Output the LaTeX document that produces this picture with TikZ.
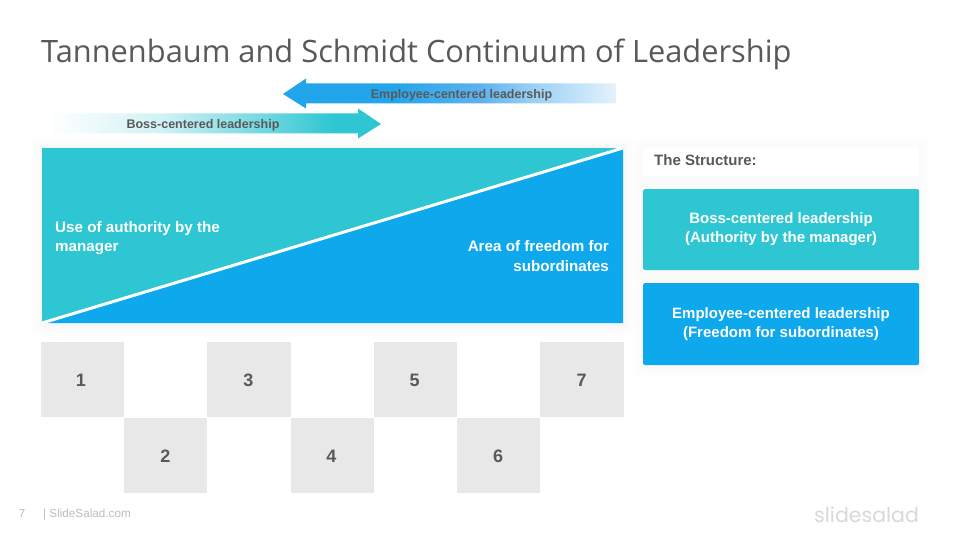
\documentclass[tikz,border=0pt]{standalone}
\usepackage{fontspec}
\setmainfont{Liberation Sans}
\newfontfamily\titlefont{Open Sans}
\newfontfamily\logofont{Poppins}
\usetikzlibrary{calc}
\definecolor{tealc}{HTML}{2DC6D2}
\definecolor{bluec}{HTML}{0EA8EC}
\definecolor{arrowb}{HTML}{22A5EB}
\definecolor{arrowm}{HTML}{5DB2EE}
\definecolor{inkc}{HTML}{595959}
\definecolor{greyc}{HTML}{E8E8E8}
\definecolor{footc}{HTML}{BDBDBD}
\definecolor{logoc}{HTML}{D9D9D9}
\definecolor{framec}{HTML}{F4F8F9}
\pgfdeclarehorizontalshading{bluefade}{100bp}{color(0bp)=(arrowb); color(29bp)=(arrowb); color(42bp)=(arrowm); color(50bp)=(arrowm!62!white); color(62bp)=(arrowm!18!white); color(75bp)=(white)}
\pgfdeclarehorizontalshading{tealfade}{100bp}{color(0bp)=(white); color(25bp)=(white); color(42bp)=(tealc!22!white); color(58bp)=(tealc!70!white); color(68bp)=(tealc); color(100bp)=(tealc)}
\tikzset{
  x=1pt,y=-1pt,
  cell/.style={fill=greyc,draw=none,minimum width=83.2pt,minimum height=75.5pt,inner sep=0pt},
  numlbl/.style={text=inkc,inner sep=0pt,font=\fontsize{18}{20}\selectfont\bfseries},
  lbl/.style={inner sep=0pt,text=inkc,font=\fontsize{12.5}{15}\selectfont\bfseries},
  wtext/.style={inner sep=0pt,text=white,align=center,font=\fontsize{15}{19}\selectfont\bfseries},
  panel/.style={rounded corners=1.5pt,inner sep=0pt,minimum width=276pt,anchor=north west},
  halo/.style={fill=black,fill opacity=0.005,draw=none,rounded corners=5pt},
}
\newcommand{\softbox}[4]{%
  \foreach \g in {2,4,...,10}{\fill[halo] ($(#1,#2)+(-\g,-\g+1)$) rectangle ($(#3,#4)+(\g,\g+1)$);}%
}
\begin{document}
\begin{tikzpicture}
\useasboundingbox (0,0) rectangle (960,540);
\fill[white] (0,0) rectangle (960,540);
\node[anchor=west,inner sep=0pt,text=inkc,font=\fontsize{30.8}{36}\selectfont\titlefont] (title) at (41,54) {Tannenbaum and Schmidt Continuum of Leadership};

% arrows
\path[shading=bluefade] (283,94) -- (306,78.5) -- (306,83.5) -- (616,83.5) -- (616,103.5) -- (306,103.5) -- (306,108.5) -- cycle;
\path[shading=tealfade] (381,124) -- (358,108.5) -- (358,113.5) -- (48,113.5) -- (48,133.5) -- (358,133.5) -- (358,138.5) -- cycle;
\node[lbl] (emp) at (461.5,95) {Employee-centered leadership};
\node[lbl] (boss) at (203,125) {Boss-centered leadership};

% main chart
\softbox{40}{146}{625}{325}
\fill[framec] (39.5,145.5) rectangle (625.5,325.5);
\fill[tealc] (42,148) rectangle (623,323);
\fill[bluec] (42,323) -- (623,148) -- (623,323) -- cycle;
\draw[white,line width=3pt] (42,323) -- (623,148);
\node[wtext,anchor=west,align=left,font=\fontsize{15.2}{19.5}\selectfont\bfseries] (auth) at (55,238) {Use of authority by the\\manager};
\node[wtext,anchor=east,align=right,font=\fontsize{15.2}{19.5}\selectfont\bfseries] (free) at (609,256) {Area of freedom for\\subordinates};

% cells
\node[cell] (c1) at (82.6,379.7) {};
\node[cell] (c2) at (165.8,455.3) {};
\node[cell] (c3) at (249,379.7) {};
\node[cell] (c4) at (332.3,455.3) {};
\node[cell] (c5) at (415.5,379.7) {};
\node[cell] (c6) at (498.6,455.3) {};
\node[cell] (c7) at (582,379.7) {};
\node[numlbl] (n1) at (81,380) {1};
\node[numlbl] (n2) at (165.5,456) {2};
\node[numlbl] (n3) at (248.5,380) {3};
\node[numlbl] (n4) at (331.5,456) {4};
\node[numlbl] (n5) at (414.5,380) {5};
\node[numlbl] (n6) at (498,456) {6};
\node[numlbl] (n7) at (581.5,380) {7};

% right panels
\softbox{643}{147}{919}{176}
\softbox{643}{189}{919}{270}
\softbox{643}{283}{919}{365}
\node[panel,fill=white,minimum height=29pt] (p0) at (643,147) {};
\node[panel,fill=tealc,minimum height=81pt] (p1) at (643,189) {};
\node[panel,fill=bluec,minimum height=82pt] (p2) at (643,283) {};
\node[anchor=west,inner sep=0pt,text=inkc,font=\fontsize{15}{18}\selectfont\bfseries] (t0) at (654,160.5) {The Structure:};
\node[wtext] (t1) at (781,229.5) {Boss-centered leadership\\(Authority by the manager)};
\node[wtext] (t2) at (781,324.5) {Employee-centered leadership\\(Freedom for subordinates)};

% footer
\node[anchor=center,inner sep=0pt,text=footc,font=\fontsize{11.5}{14}\selectfont] (pg) at (22,514) {7};
\node[anchor=west,inner sep=0pt,text=footc,font=\fontsize{11.7}{14}\selectfont] (site) at (43,514) {| SlideSalad.com};
\node[anchor=west,inner sep=0pt,text=logoc,font=\fontsize{20.5}{26}\selectfont\logofont] (logo) at (814,515) {slidesalad};
\end{tikzpicture}
\end{document}
